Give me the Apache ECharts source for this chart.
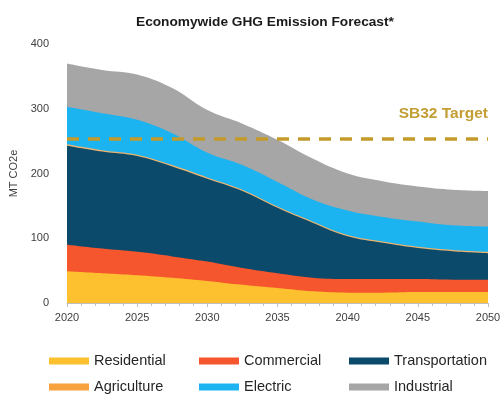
<!DOCTYPE html>
<html>
<head>
<meta charset="utf-8">
<script src="https://cdn.jsdelivr.net/npm/echarts@6/dist/echarts.min.js"></script>
<style>html,body{margin:0;padding:0;background:#fff}#c{width:504px;height:394px}</style>
</head>
<body>
<div id="c"></div>
<script>
const years = [2020, 2022.5, 2025, 2027.5, 2030, 2032.5, 2035, 2037.5, 2040, 2042.5, 2045, 2047.5, 2050];
const residential = [49, 46, 43, 39, 34, 28, 23, 18, 16, 16, 17, 17, 17];
const commercial = [41, 38, 36, 33, 30, 26, 23, 21, 21, 21, 20, 19, 19];
const transportation = [153, 150, 148, 139, 128, 119, 101, 85, 66, 56, 48, 44, 41];
const agriculture = [2, 2, 2, 2, 2, 2, 2, 2, 2, 2, 2, 2, 2];
const electric = [58, 57, 54, 49, 38, 38, 38, 34, 38, 38, 39, 38, 39];
const industrial = [67, 67, 70, 70, 66, 64, 65, 63, 57, 55, 54, 55, 55];
const target = 254;
const yTicks = [0, 100, 200, 300, 400];
const xTicks = [2020, 2025, 2030, 2035, 2040, 2045, 2050];

const seriesDefs = [
  ['Residential', residential, '#FDC02F'],
  ['Commercial', commercial, '#F5562E'],
  ['Transportation', transportation, '#0B4A6A'],
  ['Agriculture', agriculture, '#EFB56E'],
  ['Electric', electric, '#1CB3F1'],
  ['Industrial', industrial, '#A6A6A6']
];
const legendColors = { Agriculture: '#F8A23E' };

// cumulative totals (stack computed here; drawn as overlapping opaque areas, top layer last)
const cum = [];
let running = years.map(() => 0);
seriesDefs.forEach(([, vals]) => {
  running = running.map((r, j) => r + vals[j]);
  cum.push(running.slice());
});

const chart = echarts.init(document.getElementById('c'));

const series = seriesDefs.map(([name, vals, color], i) => ({
  name: name,
  type: 'line',
  smooth: 0.4,
  symbol: 'none',
  data: years.map((y, j) => [y, cum[i][j]]),
  lineStyle: { width: 0 },
  areaStyle: { color: color, opacity: 1 },
  itemStyle: { color: legendColors[name] || color },
  z: 10 - i
}));

series.push({
  type: 'line', data: [], silent: true, z: 20,
  markLine: {
    silent: true,
    symbol: 'none',
    z: 30,
    lineStyle: { color: '#C49B2B', width: 3.5, type: [12, 9] },
    label: { show: false },
    data: [{ yAxis: target }]
  }
});

chart.setOption({
  animation: false,
  backgroundColor: '#ffffff',
  title: {
    text: 'Economywide GHG Emission Forecast*',
    left: 131, top: 10,
    textStyle: { fontFamily: 'Liberation Sans, Arial', fontSize: 13.7, fontWeight: 'bold', color: '#1a1a1a' }
  },
  grid: { left: 67, right: 16, top: 44, bottom: 91 },
  legend: {
    data: seriesDefs.map(d => d[0]),
    left: 49, top: 348, width: 456,
    orient: 'horizontal',
    icon: 'rect', itemWidth: 40, itemHeight: 7, itemGap: 0, itemTextGap: 6,
    padding: 0,
    selectedMode: false,
    textStyle: { fontFamily: 'Liberation Sans, Arial', fontSize: 14.5, color: '#262626', width: 105, lineHeight: 26 }
  },
  xAxis: {
    type: 'value', min: 2020, max: 2050, interval: 5,
    axisLine: { show: true, lineStyle: { color: '#BFBFBF', width: 1 } },
    axisTick: { show: true, length: 4, lineStyle: { color: '#BFBFBF' } },
    minorTick: { show: true, splitNumber: 5, length: 3, lineStyle: { color: '#BFBFBF' } },
    splitLine: { show: false },
    axisLabel: {
      margin: 9,
      formatter: v => xTicks.includes(v) ? String(v) : '',
      fontFamily: 'Liberation Sans, Arial', fontSize: 11, color: '#404040'
    }
  },
  yAxis: {
    type: 'value', min: 0, max: 400, interval: 100,
    name: 'MT CO2e', nameLocation: 'middle', nameGap: 40, nameRotate: 90,
    nameTextStyle: { fontFamily: 'Liberation Sans, Arial', fontSize: 11, color: '#404040' },
    axisLine: { show: false },
    axisTick: { show: false },
    splitLine: { show: false },
    axisLabel: {
      margin: 18,
      formatter: v => yTicks.includes(v) ? String(v) : '',
      fontFamily: 'Liberation Sans, Arial', fontSize: 11, color: '#404040'
    }
  },
  graphic: [{
    type: 'text', right: 16, top: 106,
    style: { text: 'SB32 Target', fill: '#C39E34', font: 'bold 15.5px "Liberation Sans", Arial' }
  }],
  series: series
});
</script>
</body>
</html>
